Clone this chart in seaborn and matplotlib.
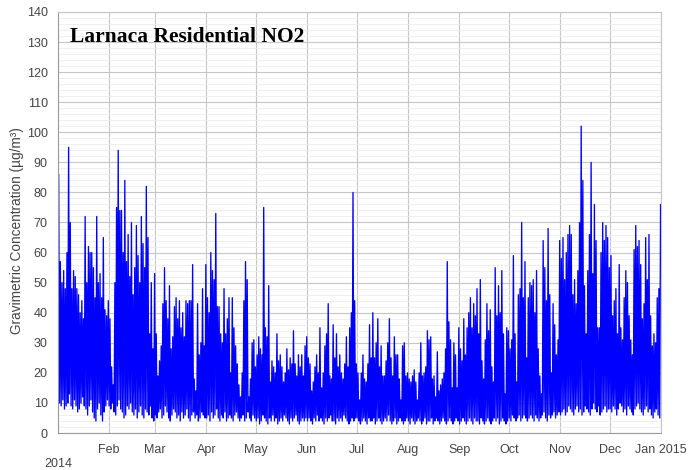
import matplotlib
matplotlib.use("Agg")
import matplotlib.pyplot as plt
import matplotlib.dates as mdates
import matplotlib.ticker as mticker
import pandas as pd
import seaborn as sns

# daily peak NO2 (µg/m³), one line per month
daily_max = [
    86, 57, 50, 54, 48, 60, 95, 70, 48, 54, 52, 48, 46, 40, 44, 38, 72, 50, 62, 60, 60, 55, 45, 72, 50, 53, 45, 65, 41, 39, 44,
    38, 22, 16, 50, 75, 94, 74, 74, 60, 84, 57, 66, 52, 70, 46, 55, 69, 59, 50, 72, 63, 55, 82, 65, 33, 50, 28, 53,
    33, 19, 24, 29, 43, 55, 44, 38, 49, 28, 32, 42, 45, 38, 44, 35, 40, 32, 44, 43, 44, 44, 56, 18, 14, 43, 26, 30, 48, 29, 56,
    45, 40, 60, 54, 51, 73, 42, 42, 33, 30, 48, 33, 38, 45, 20, 45, 35, 29, 23, 16, 12, 20, 44, 57, 51, 12, 18, 30, 31, 22,
    26, 32, 28, 26, 75, 35, 32, 49, 17, 24, 22, 20, 33, 24, 26, 22, 17, 20, 28, 21, 25, 23, 34, 23, 19, 26, 22, 26, 19, 29, 32,
    25, 23, 14, 17, 22, 26, 20, 35, 15, 20, 29, 33, 43, 19, 18, 36, 25, 33, 22, 26, 20, 18, 23, 32, 22, 35, 40, 80, 44, 23,
    20, 11, 20, 26, 18, 17, 23, 36, 25, 40, 25, 30, 38, 22, 29, 19, 19, 24, 30, 38, 25, 19, 32, 26, 26, 18, 11, 29, 30, 19, 20,
    18, 17, 19, 21, 17, 11, 20, 30, 19, 20, 22, 34, 31, 32, 18, 19, 12, 27, 14, 16, 18, 20, 28, 57, 37, 31, 15, 30, 26, 15, 35,
    28, 24, 38, 26, 35, 40, 45, 35, 43, 39, 48, 33, 51, 24, 18, 31, 43, 34, 41, 22, 17, 55, 39, 49, 40, 54, 33, 13, 35, 34,
    28, 31, 59, 33, 17, 46, 48, 70, 45, 57, 25, 45, 50, 49, 51, 40, 54, 28, 19, 13, 64, 55, 44, 68, 46, 20, 43, 36, 26, 31, 64,
    58, 65, 51, 60, 66, 69, 66, 46, 51, 43, 54, 70, 102, 84, 49, 33, 54, 66, 90, 53, 76, 64, 35, 35, 60, 70, 64, 69, 65, 55,
    59, 39, 44, 48, 33, 56, 35, 31, 45, 54, 50, 39, 31, 26, 61, 69, 62, 64, 56, 38, 43, 65, 51, 66, 39, 29, 33, 30, 45, 48, 76,
]

# daily low NO2 (µg/m³)
daily_min = [
    12, 10, 9, 11, 8, 9, 10, 13, 9, 8, 11, 9, 7, 8, 10, 12, 9, 8, 6, 9, 11, 7, 5, 4, 8, 10, 6, 4, 7, 9, 11,
    9, 8, 10, 7, 6, 9, 11, 8, 7, 5, 6, 9, 8, 10, 7, 6, 8, 5, 7, 9, 6, 5, 8, 7, 6, 9, 5, 4,
    6, 5, 7, 8, 5, 6, 9, 7, 5, 4, 6, 8, 7, 5, 6, 4, 7, 5, 6, 8, 5, 4, 6, 7, 5, 6, 4, 5, 7, 6, 5,
    5, 6, 4, 7, 5, 6, 8, 5, 4, 6, 5, 7, 4, 5, 6, 5, 4, 6, 7, 5, 4, 5, 6, 4, 5, 7, 5, 4, 6, 5,
    4, 5, 3, 4, 6, 5, 4, 3, 5, 4, 6, 4, 5, 3, 4, 5, 4, 6, 5, 4, 3, 5, 4, 5, 6, 4, 3, 4, 5, 4, 5,
    4, 5, 4, 3, 5, 4, 6, 4, 5, 4, 3, 5, 4, 5, 6, 4, 4, 3, 5, 4, 5, 4, 6, 5, 4, 3, 4, 5, 4, 5,
    5, 4, 3, 4, 5, 4, 3, 5, 4, 4, 5, 3, 4, 5, 4, 3, 4, 5, 4, 6, 4, 3, 4, 5, 3, 4, 5, 4, 3, 4, 5,
    4, 3, 5, 4, 3, 4, 5, 4, 3, 4, 5, 3, 4, 4, 5, 3, 4, 5, 4, 3, 4, 5, 4, 3, 4, 5, 4, 3, 4, 5, 4,
    3, 4, 5, 4, 3, 4, 5, 4, 3, 5, 4, 4, 3, 5, 4, 3, 4, 5, 4, 3, 4, 5, 4, 5, 3, 4, 5, 4, 3, 4,
    5, 4, 6, 5, 4, 5, 6, 4, 5, 6, 5, 4, 5, 6, 5, 4, 6, 5, 4, 5, 6, 7, 5, 4, 6, 5, 6, 7, 5, 6, 7,
    6, 7, 8, 6, 7, 9, 8, 7, 6, 8, 9, 7, 8, 6, 7, 9, 8, 7, 6, 8, 10, 8, 7, 9, 6, 7, 8, 9, 7, 8,
    8, 7, 9, 8, 6, 8, 10, 9, 7, 8, 6, 9, 8, 7, 6, 8, 9, 10, 8, 7, 6, 8, 9, 7, 8, 6, 5, 7, 8, 6, 5,
]

month_labels = ["Feb", "Mar", "Apr", "May", "Jun", "Jul", "Aug", "Sep", "Oct", "Nov", "Dec", "Jan 2015"]
year_label = "2014"
title = "Larnaca Residential NO2"
ylabel = "Gravimetric Concentration (µg/m³)"

days = pd.date_range("2014-01-01", periods=len(daily_max), freq="D")
df = pd.DataFrame({
    "time": list(days + pd.Timedelta(hours=5)) + list(days + pd.Timedelta(hours=17)),
    "no2": daily_min + daily_max,
}).sort_values("time")

sns.set_style("white")
plt.rcParams["font.family"] = ["Liberation Sans", "DejaVu Sans"]

fig = plt.figure(figsize=(6.88, 4.70), dpi=100)
ax = fig.add_axes([0.0836, 0.0787, 0.8772, 0.8958])

sns.lineplot(data=df, x="time", y="no2", estimator=None, sort=False,
             color="#0000ff", linewidth=0.95, ax=ax)

ax.set_xlim(pd.Timestamp("2014-01-01"), pd.Timestamp("2015-01-01"))
ax.set_ylim(0, 140)

month_starts = pd.date_range("2014-02-01", "2015-01-01", freq="MS")
ax.xaxis.set_major_locator(mticker.FixedLocator(mdates.date2num(month_starts)))
ax.xaxis.set_major_formatter(mticker.FixedFormatter(month_labels))
ax.xaxis.set_minor_locator(mdates.DayLocator(bymonthday=[8, 15, 22]))
ax.yaxis.set_major_locator(mticker.MultipleLocator(10))
ax.yaxis.set_minor_locator(mticker.MultipleLocator(2))

ax.grid(which="major", color="#c6c6c6", linewidth=0.8)
ax.grid(which="minor", axis="y", color="#ececec", linewidth=0.6)
ax.set_axisbelow(True)

ax.tick_params(axis="x", which="major", length=0, pad=8, labelsize=9, labelcolor="#444444")
ax.tick_params(axis="x", which="minor", direction="in", length=5, color="#999999")
ax.tick_params(axis="y", which="major", direction="out", length=5, color="#999999",
               labelsize=9, labelcolor="#444444", pad=2)
ax.tick_params(axis="y", which="minor", length=0)

for side in ["left", "bottom"]:
    ax.spines[side].set_color("#999999")
for side in ["top", "right"]:
    ax.spines[side].set_color("#c6c6c6")

ax.set_xlabel("")
ax.set_ylabel(ylabel, fontsize=9.8, color="#444444")
ax.yaxis.set_label_coords(-0.056, 0.48)

ax.text(0.021, 0.94, title, transform=ax.transAxes, fontfamily="Liberation Serif",
        fontweight="bold", fontsize=15.5, va="center", ha="left", color="black")
fig.text(58 / 688, 1 - 464 / 470, year_label, ha="center", va="center",
         fontsize=9, color="#444444")

fig.savefig("out.png", dpi=100)
